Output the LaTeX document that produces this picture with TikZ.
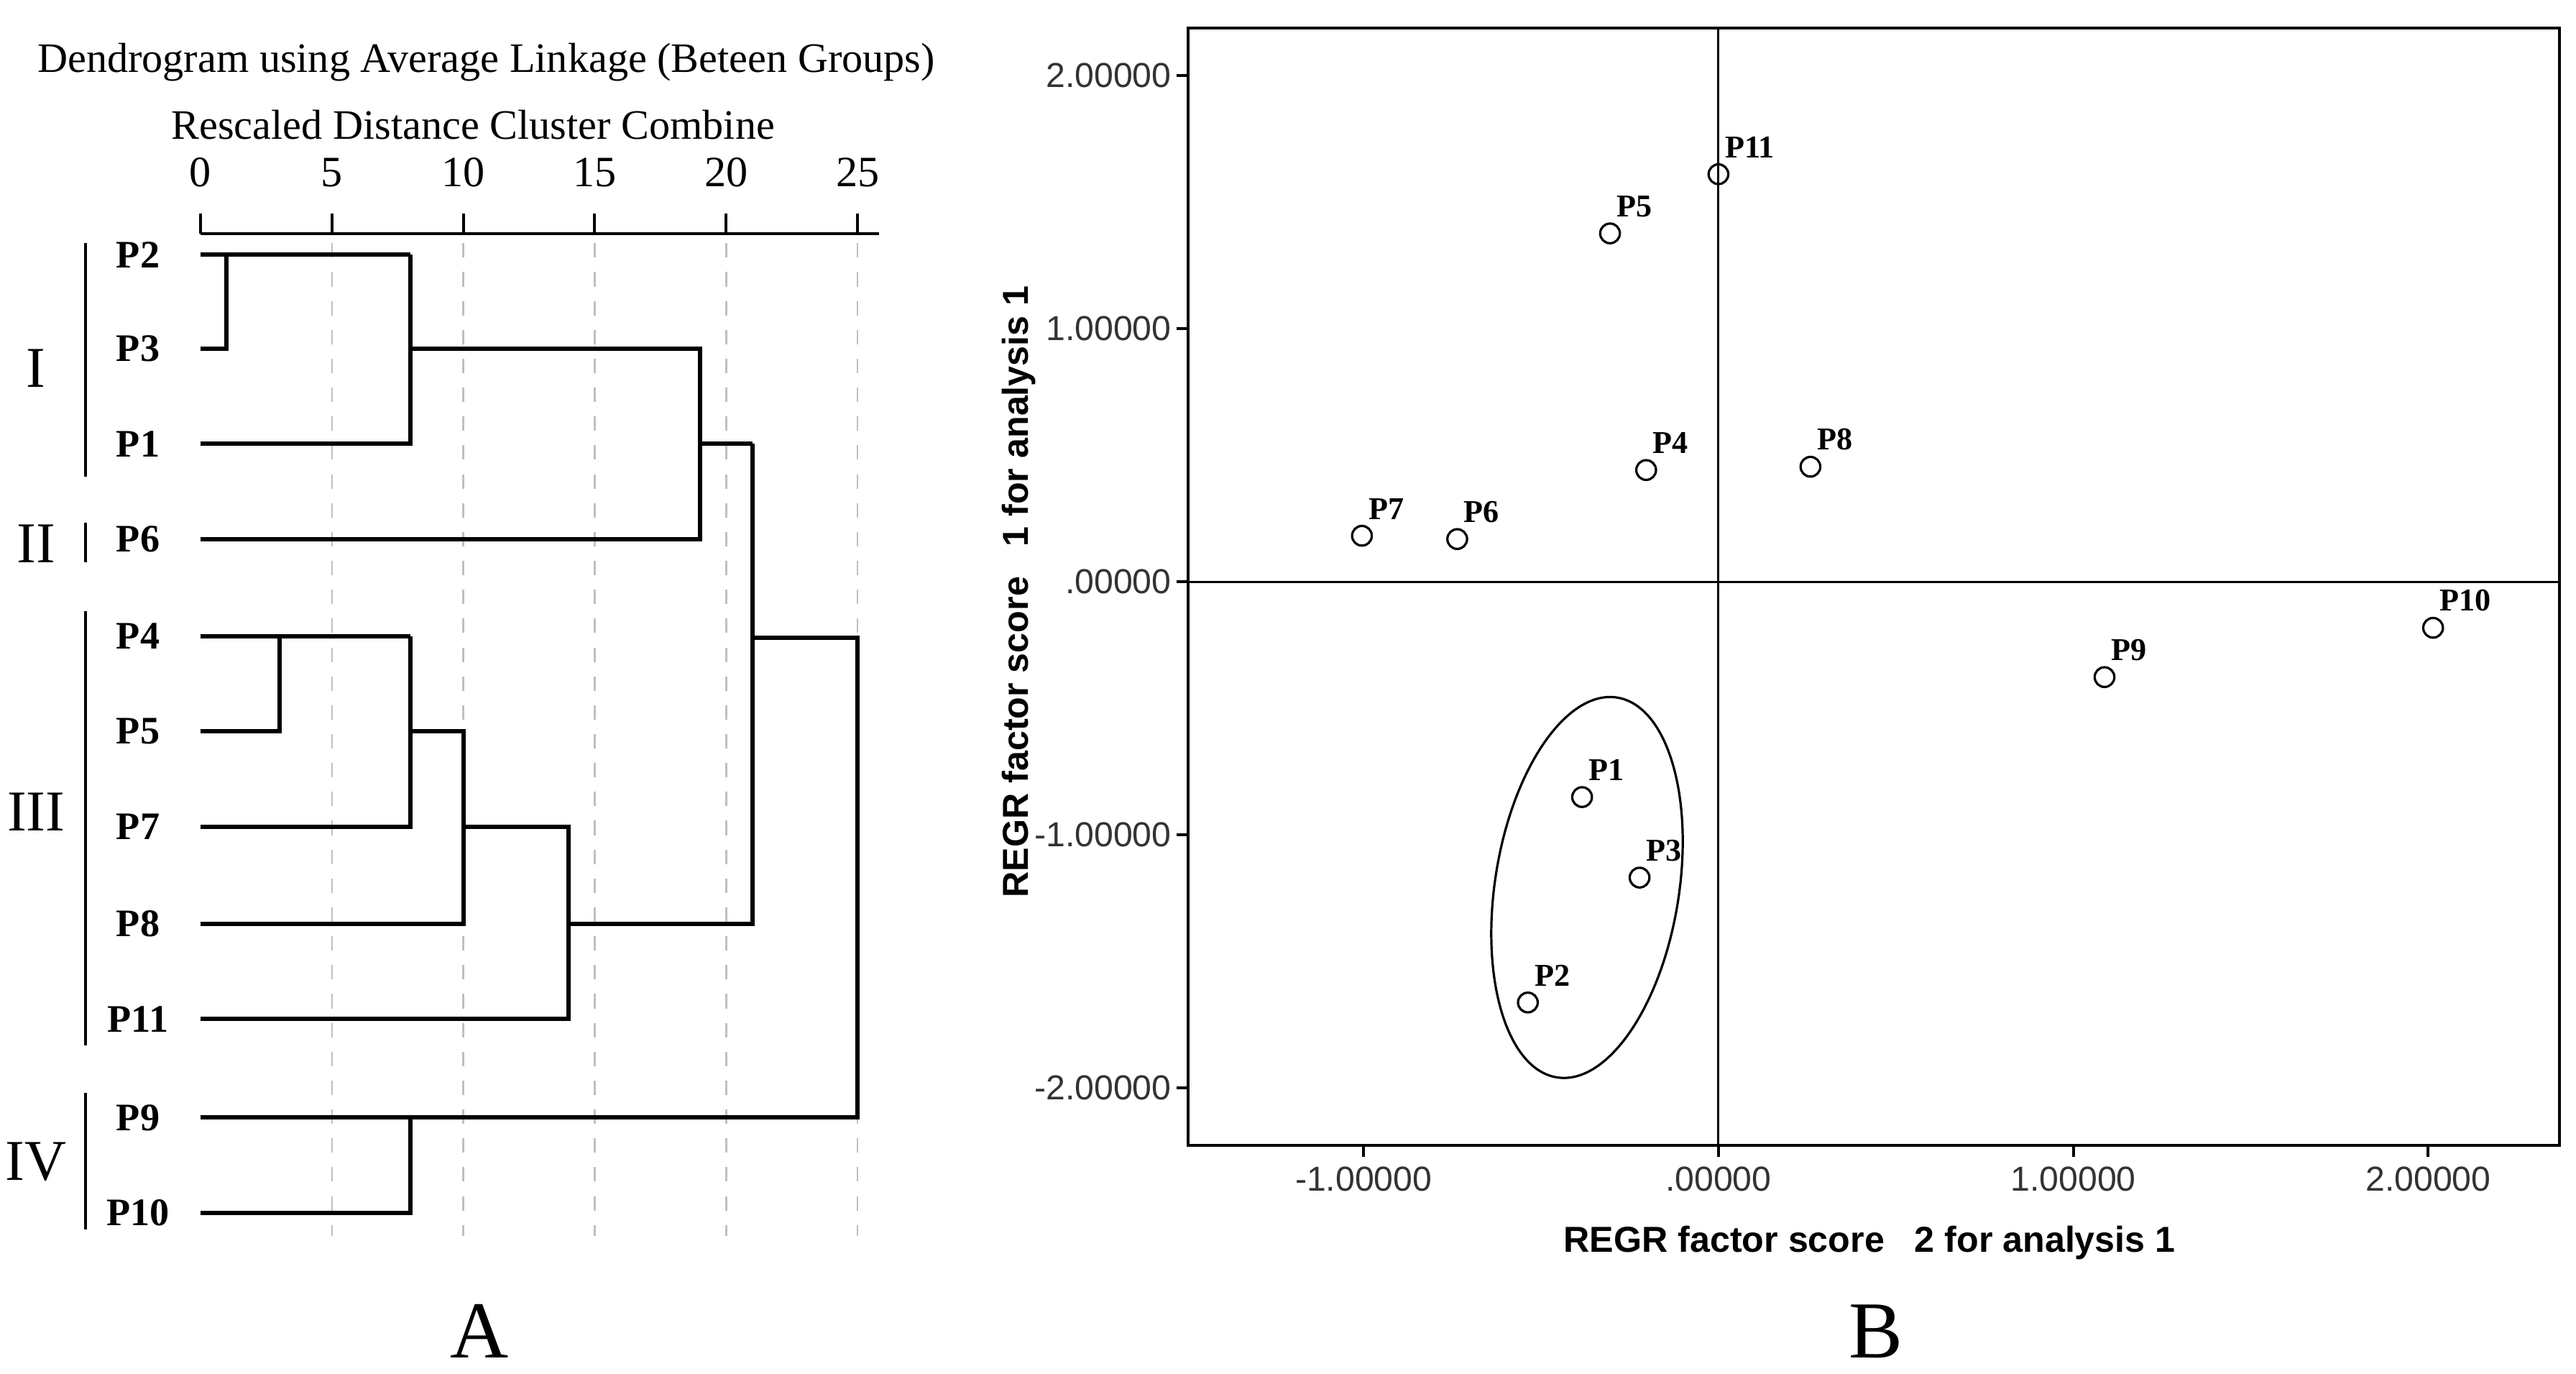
\documentclass[tikz,border=0pt]{standalone}
\usepackage{fontspec}
\setmainfont{Liberation Serif}
\setsansfont{Liberation Sans}
\begin{document}
\begin{tikzpicture}[x=0.02cm,y=-0.02cm,
  dl/.style={line width=1.5pt},
  grid/.style={gray!50,dashed,dash pattern=on 5pt off 5pt,line width=0.6pt},
  lab/.style={font=\fontsize{13.5}{15}\selectfont\bfseries,anchor=center},
  rom/.style={font=\fontsize{20}{22}\selectfont},
  pt/.style={circle,draw,line width=0.8pt,minimum size=0.24cm,inner sep=0pt},
  plab/.style={font=\fontsize{11}{13}\selectfont\bfseries,anchor=south west,inner sep=1pt},
  tk/.style={font=\sffamily\fontsize{12}{14}\selectfont,text=black!80}]
\useasboundingbox (0,0) rectangle (1568,836);
% ---- A: dendrogram ----
\node[font=\fontsize{14.5}{16}\selectfont] (title) at (296,38) {Dendrogram using Average Linkage (Beteen Groups)};
\node[font=\fontsize{14.5}{16}\selectfont] (sub) at (288,76) {Rescaled Distance Cluster Combine};
\draw[line width=1pt] (122,142) -- (535,142);
\foreach \v in {0,5,...,25}{
  \draw[line width=1pt] (122+16*\v,130) -- (122+16*\v,142);
  \node[font=\fontsize{15}{16}\selectfont] (t\v) at (122+16*\v,105) {\v};
}
\foreach \v in {5,10,...,25}{\draw[grid] (122+16*\v,148) -- (122+16*\v,752);}
\foreach \n/\y in {P2/155,P3/212,P1/270,P6/328,P4/387,P5/445,P7/503,P8/562,P11/620,P9/680,P10/738}{
  \node[lab] (l\n) at (84,\y) {\n};
}
\draw[line width=1pt] (52,148) -- (52,290);
\draw[line width=1pt] (52,318) -- (52,342);
\draw[line width=1pt] (52,372) -- (52,636);
\draw[line width=1pt] (52,665) -- (52,748);
\node[rom] (r1) at (22,224) {I};
\node[rom] (r2) at (22,331) {II};
\node[rom] (r3) at (22,494) {III};
\node[rom] (r4) at (22,707) {IV};
% links
\draw[dl] (122,155) -- (250,155);
\draw[dl] (122,212) -- (138,212) -- (138,155);
\draw[dl] (122,270) -- (250,270) -- (250,155);
\draw[dl] (250,212) -- (426,212) -- (426,328) -- (122,328);
\draw[dl] (426,270) -- (458,270);
\draw[dl] (122,387) -- (250,387);
\draw[dl] (122,445) -- (170,445) -- (170,387);
\draw[dl] (250,387) -- (250,503) -- (122,503);
\draw[dl] (250,445) -- (282,445) -- (282,562) -- (122,562);
\draw[dl] (282,503) -- (346,503) -- (346,620) -- (122,620);
\draw[dl] (346,562) -- (458,562) -- (458,270);
\draw[dl] (458,388) -- (522,388) -- (522,680) -- (122,680);
\draw[dl] (122,738) -- (250,738) -- (250,680);
\node[font=\fontsize{28}{30}\selectfont] (A) at (292,810) {A};
% ---- B: scatter ----
\draw[line width=1pt] (723,17) rectangle (1558,697);
\draw[line width=0.8pt] (1046,17) -- (1046,697);
\draw[line width=0.8pt] (723,354) -- (1558,354);
\foreach \v/\t in {2/2.00000,1/1.00000,0/.00000,-1/-1.00000,-2/-2.00000}{
  \draw[line width=1pt] (716,354-154*\v) -- (723,354-154*\v);
  \node[tk,anchor=east,inner sep=1pt] (y\v) at (715,354-154*\v) {\t};
}
\foreach \v/\t in {-1/-1.00000,0/.00000,1/1.00000,2/2.00000}{
  \draw[line width=1pt] (1046+216*\v,697) -- (1046+216*\v,704);
  \node[tk,anchor=north,inner sep=1pt] (x\v) at (1046+216*\v,708) {\t};
}
\node[font=\sffamily\bfseries\fontsize{12.5}{14}\selectfont,rotate=90] (ylab) at (620,360) {REGR factor score\ \ \ 1 for analysis 1};
\node[font=\sffamily\bfseries\fontsize{12.5}{14}\selectfont] (xlab) at (1138,756) {REGR factor score\ \ \ 2 for analysis 1};
\foreach \n/\x/\y in {P11/1046/106,P5/980/142,P4/1002/286,P8/1102/284,P7/829/326,P6/887/328,P10/1481/382,P9/1281/412,P1/963/485,P3/998/534,P2/930/610}{
  \node[pt] (s\n) at (\x,\y) {};
  \node[plab] (sl\n) at (\x+2,\y-8) {\n};
}
\draw[line width=0.8pt,rotate around={-9:(966,540)}] (966,540) ellipse [x radius=56, y radius=117];
\node[font=\fontsize{28}{30}\selectfont] (B) at (1142,810) {B};
\end{tikzpicture}
\end{document}
